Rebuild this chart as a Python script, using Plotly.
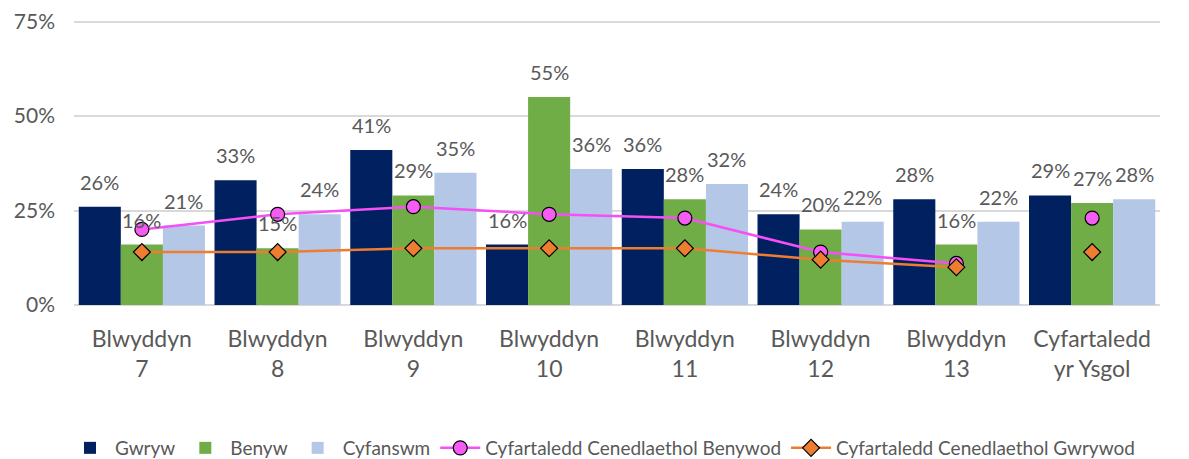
import plotly.graph_objects as go

categories = ["Blwyddyn<br>7", "Blwyddyn<br>8", "Blwyddyn<br>9", "Blwyddyn<br>10",
              "Blwyddyn<br>11", "Blwyddyn<br>12", "Blwyddyn<br>13", "Cyfartaledd<br>yr Ysgol"]
gwryw = [26, 33, 41, 16, 36, 24, 28, 29]
benyw = [16, 15, 29, 55, 28, 20, 16, 27]
cyfanswm = [21, 24, 35, 36, 32, 22, 22, 28]
nat_benywod = [20, 24, 26, 24, 23, 14, 11, 23]
nat_gwrywod = [14, 14, 15, 15, 15, 12, 10, 14]
ytick_vals = [0, 25, 50, 75]
ytick_text = ["0%", "25%", "50%", "75%"]

FONT = "Lato, Carlito, Liberation Sans, sans-serif"
GREY = "#595959"

fig = go.Figure()
bar_series = [("Gwryw", gwryw, "#002060"), ("Benyw", benyw, "#70AD47"), ("Cyfanswm", cyfanswm, "#B4C7E7")]
for name, vals, col in bar_series:
    fig.add_trace(go.Bar(x=categories, y=vals, name=name, marker=dict(color=col, line=dict(width=0))))

pink_marker = dict(symbol="circle", size=14, color="#F45CF4", line=dict(color="black", width=1.2))
orange_marker = dict(symbol="diamond", size=13, color="#ED7D31", line=dict(color="black", width=1.2))
fig.add_trace(go.Scatter(x=categories[:7], y=nat_benywod[:7], mode="lines+markers",
                         name="Cyfartaledd Cenedlaethol Benywod",
                         line=dict(color="#F54FF5", width=2.5), marker=pink_marker))
fig.add_trace(go.Scatter(x=categories[7:], y=nat_benywod[7:], mode="markers", showlegend=False,
                         marker=pink_marker))
fig.add_trace(go.Scatter(x=categories[:7], y=nat_gwrywod[:7], mode="lines+markers",
                         name="Cyfartaledd Cenedlaethol Gwrywod",
                         line=dict(color="#ED7D31", width=2.5), marker=orange_marker))
fig.add_trace(go.Scatter(x=categories[7:], y=nat_gwrywod[7:], mode="markers", showlegend=False,
                         marker=orange_marker))

# Data labels above bars
bar_px = 42
for i, (name, vals, col) in enumerate(bar_series):
    for c, v in zip(categories, vals):
        fig.add_annotation(x=c, y=v, text=f"{v}%", showarrow=False, xshift=(i - 1) * bar_px,
                           yanchor="bottom", yshift=11, font=dict(family=FONT, size=20, color=GREY))

fig.update_layout(
    width=1189, height=459,
    margin=dict(l=66, r=37, t=12, b=162, autoexpand=False),
    paper_bgcolor="white", plot_bgcolor="white",
    barmode="group", bargap=0.07, bargroupgap=0,
    font=dict(family=FONT, color=GREY),
    showlegend=True,
    legend=dict(orientation="h", xref="container", x=0.5, xanchor="center", yref="container", y=0.0,
                yanchor="bottom", font=dict(family=FONT, size=19, color=GREY), traceorder="normal",
                itemwidth=40),
)
fig.update_xaxes(showgrid=False, showline=False, ticks="", ticklabelstandoff=18, automargin=False,
                 tickfont=dict(family=FONT, size=23, color=GREY))
fig.update_yaxes(range=[0, 75.4], tickmode="array", tickvals=ytick_vals, ticktext=ytick_text, showgrid=True,
                 gridcolor="#D9D9D9", gridwidth=1.5,
                 zeroline=True, zerolinecolor="#D9D9D9", zerolinewidth=1.5, ticklabelstandoff=18,
                 ticklabeloverflow="allow", automargin=False, tickfont=dict(family=FONT, size=21, color=GREY))

fig.write_html("out.html")
